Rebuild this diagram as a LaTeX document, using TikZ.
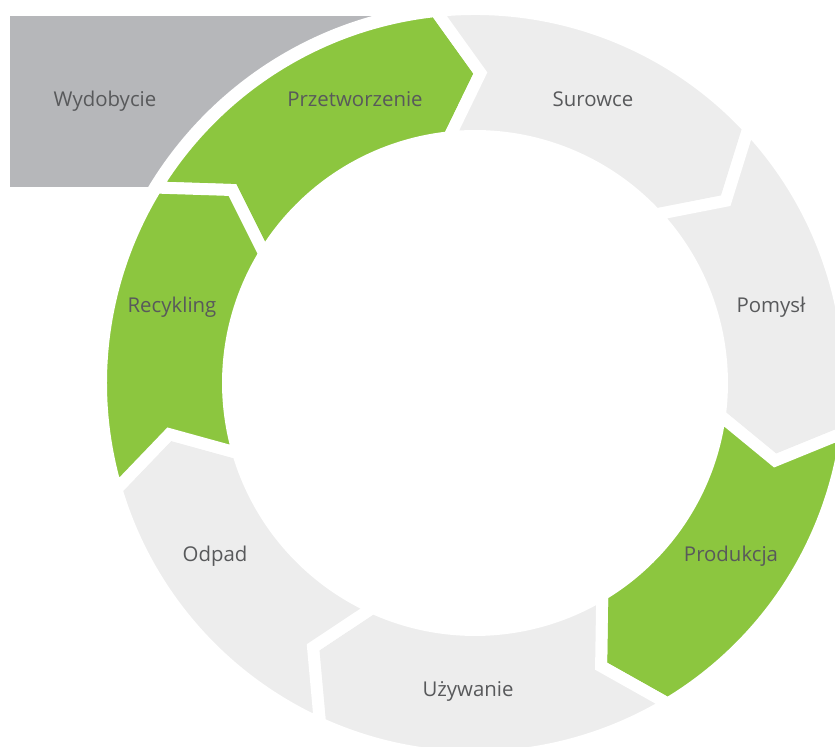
\documentclass[tikz,border=0pt]{standalone}
\usepackage{fontspec}
\setmainfont{Open Sans}

\definecolor{zielony}{HTML}{8CC63F}
\definecolor{jasny}{HTML}{EDEDED}
\definecolor{szary}{HTML}{B6B7BA}
\definecolor{napis}{HTML}{58595B}

\tikzstyle{every node}=[text=napis,font=\fontsize{14.5}{17}\selectfont,anchor=base]
\tikzstyle{odcinek}=[draw=white,line width=8.5pt]

\begin{document}
\begin{tikzpicture}[scale=0.025]
    \useasboundingbox (-475,-364) rectangle (360,383);
    \fill[szary] (-465,196) rectangle (0,367);
    \fill[white] (0,0) circle (381);
    % segments of the ring, clockwise: start angle / end angle / colour
    \foreach \s/\e/\kolor in {148.5/96/zielony, 96/43/jasny, 43/-7.5/jasny,
        -7.5/-59/zielony, -59/-114.5/jasny, -114.5/-163.5/jasny, 196.5/148.5/zielony}
        \filldraw[odcinek,fill=\kolor] (\s:374) arc[start angle=\s,end angle=\e,radius=374]
            -- (\e-7:310) -- (\e:247) arc[start angle=\e,end angle=\s,radius=247]
            -- (\s-7:310) -- cycle;
    \node (wydobycie) at (-370,276) {Wydobycie};
    \node (przetworzenie) at (-120,276) {Przetworzenie};
    \node (surowce) at (118,276) {Surowce};
    \node (pomysl) at (296,70) {Pomysł};
    \node (produkcja) at (256,-179) {Produkcja};
    \node (uzywanie) at (-7,-314) {Używanie};
    \node (odpad) at (-260,-179) {Odpad};
    \node (recykling) at (-303,70) {Recykling};
\end{tikzpicture}
\end{document}
